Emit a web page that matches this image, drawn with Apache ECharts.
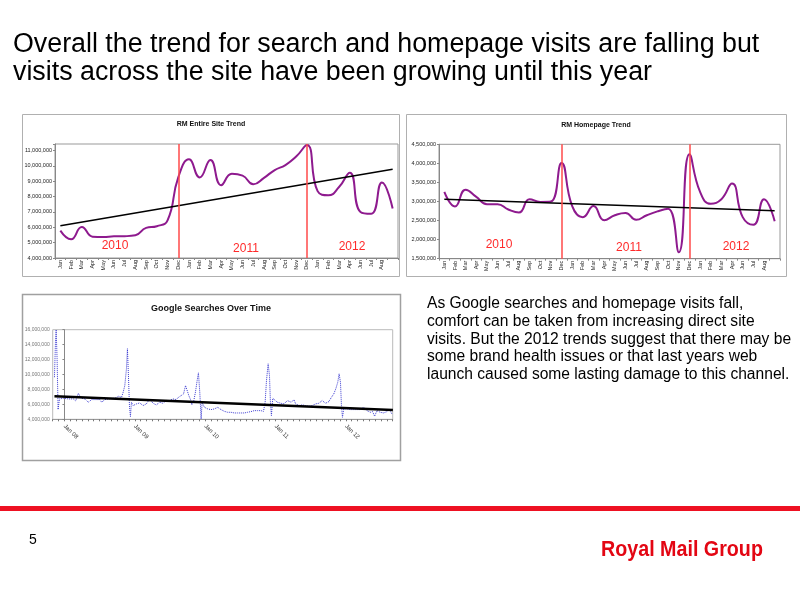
<!DOCTYPE html>
<html><head><meta charset="utf-8">
<script src="https://cdn.jsdelivr.net/npm/echarts@6/dist/echarts.min.js"></script>
<style>html,body{margin:0;padding:0;background:#fff}#c{width:800px;height:600px}</style>
</head><body><div id="c"></div>
<script>
// ---- data ----
const monthLabels = ['Jan','Feb','Mar','Apr','May','Jun','Jul','Aug','Sep','Oct','Nov','Dec',
  'Jan','Feb','Mar','Apr','May','Jun','Jul','Aug','Sep','Oct','Nov','Dec',
  'Jan','Feb','Mar','Apr','Jun','Jul','Aug',''];
const siteVisits = [5780000,5220000,6020000,5390000,5360000,5410000,5420000,5480000,5960000,6070000,6450000,9250000,
  10420000,9240000,10380000,8740000,9480000,9360000,8800000,9220000,9720000,10050000,10600000,11350000,
  8350000,8080000,8620000,9550000,7000000,6880000,8920000,7220000];
const siteTrend = [6100000, 9780000];
const homeVisits = [3250000,2870000,3310000,3120000,2930000,2930000,2790000,2710000,3060000,2990000,3000000,4010000,
  2880000,2590000,2880000,2510000,2640000,2700000,2520000,2640000,2740000,2810000,1670000,4240000,
  3250000,2940000,3060000,3470000,2590000,2390000,3060000,2480000];
const homeTrend = [3060000, 2760000];
const yearLabels = ['2010','2011','2012'];
const yearDividers = [11, 23]; // category index of the red lines (Dec 2010, Dec 2011)
// Google searches: x = months since Jan 2008, y = searches
const googleMonth = [-1.70,-1.53,-1.41,-1.25,-1.08,-0.85,-0.17,0.68,1.53,1.92,2.38,2.83,3.51,4.07,4.64,5.32,6.06,6.34,6.90,7.47,
  8.60,9.28,9.73,10.02,10.30,10.58,10.75,10.92,11.09,11.26,11.43,11.71,12.28,12.85,13.41,13.98,14.54,15.11,15.68,16.24,
  16.81,17.37,17.94,18.51,19.07,19.47,19.92,20.32,20.66,20.88,21.22,21.51,21.73,22.07,22.35,22.64,22.86,23.09,23.32,23.49,
  23.88,24.45,25.01,25.58,26.15,26.71,27.28,27.84,28.41,28.98,29.54,30.11,30.67,31.24,31.81,32.37,32.94,33.50,33.96,34.24,
  34.47,34.75,34.98,35.14,35.31,35.54,35.88,36.33,36.90,37.46,38.03,38.37,38.71,39.16,39.44,40.01,40.58,41.14,41.71,42.28,
  42.84,43.41,43.97,44.54,45.11,45.56,45.95,46.29,46.63,46.86,47.09,47.26,47.43,47.65,48.22,48.78,49.35,49.92,50.48,51.05,
  51.61,52.18,52.58,52.91,53.31,53.88,54.44,55.01,55.46,55.86];
const googleSearches = [9640000,14300000,16000000,12100000,5300000,6730000,6820000,6730000,6730000,6460000,7490000,6820000,6730000,6280000,6640000,6640000,6640000,6280000,6640000,6730000,
  6820000,7090000,6910000,7630000,8520000,10760000,13450000,9870000,5840000,4360000,6280000,5840000,6060000,6190000,5840000,6060000,6730000,6150000,5930000,6280000,
  6150000,6510000,6510000,6730000,6640000,6960000,7180000,7400000,8520000,8610000,7180000,6640000,5930000,6510000,7630000,9190000,10220000,7630000,4040000,6280000,
  5610000,5390000,5300000,5390000,5610000,5300000,5070000,4940000,4940000,4850000,4850000,4850000,4850000,4940000,5030000,5160000,5160000,5160000,5070000,6280000,
  9190000,11430000,9870000,6280000,4490000,6820000,6820000,6280000,6150000,6060000,6510000,6640000,6280000,6640000,6060000,5840000,5930000,5840000,5750000,5840000,
  6060000,6150000,6510000,6150000,6370000,6960000,7400000,8080000,8970000,10090000,8970000,5840000,4270000,5390000,5390000,5300000,5300000,5300000,5300000,5610000,
  5160000,4940000,5030000,4400000,5160000,4940000,4850000,5030000,5300000,4720000,5300000];
const googleTrendX = [-1.70, 56.03];
const googleTrendY = [7090000, 5250000];
const googleYearLabels = ['Jan 08','Jan 09','Jan 10','Jan 11','Jan 12'];

// ---- layout / style ----
const FONT = '"Liberation Sans", Arial, sans-serif';
const purple = '#8e1a8e';
const redLine = '#ff4a4a';
const yearRed = '#ff2a2a';
const fmt = v => Math.round(v).toLocaleString('en-US');

function monthAxis(gi){
  return {gridIndex: gi, type:'category', data: monthLabels, boundaryGap:true,
    axisLine:{lineStyle:{color:'#888',width:1}},
    axisTick:{show:true,length:2,lineStyle:{color:'#888'}},
    axisLabel:{interval:0, rotate:90, fontSize:5.5, color:'#222', margin:2, fontFamily:FONT}};
}
function valAxis(gi, min, max, step){
  return {gridIndex: gi, type:'value', min:min, max:max, interval:step,
    splitLine:{show:false},
    axisLine:{show:true,lineStyle:{color:'#888',width:1}},
    axisTick:{show:true,length:2,lineStyle:{color:'#888'}},
    axisLabel:{fontSize:5.5, color:'#222', margin:3, fontFamily:FONT,
      formatter: v => (Math.abs((v - min) / step - Math.round((v - min) / step)) < 1e-6) ? fmt(v) : ''}};
}
function dividers(){
  return {silent:true, symbol:['none','none'], label:{show:false},
    lineStyle:{color:redLine, width:1.5, type:'solid'},
    data: yearDividers.map(i => ({xAxis:i}))};
}

const chart = echarts.init(document.getElementById('c'), null, {renderer:'canvas'});

const graphics = [
  {type:'text', x:13, y:45, style:{text:'Overall the trend for search and homepage visits are falling but', font:'26.8px '+FONT, fill:'#000', verticalAlign:'middle'}},
  {type:'text', x:13, y:73, style:{text:'visits across the site have been growing until this year', font:'26.8px '+FONT, fill:'#000', verticalAlign:'middle'}},
  // chart frames
  {type:'rect', shape:{x:22.5,y:114.5,width:377,height:162}, style:{fill:'none', stroke:'#b0b0b0', lineWidth:1}},
  {type:'rect', shape:{x:406.5,y:114.5,width:380,height:162}, style:{fill:'none', stroke:'#b0b0b0', lineWidth:1}},
  {type:'rect', shape:{x:22.5,y:294.5,width:378,height:166}, style:{fill:'none', stroke:'#a0a0a0', lineWidth:1.5}},
  // chart titles
  {type:'text', x:211, y:124, style:{text:'RM Entire Site Trend', font:'bold 7px '+FONT, fill:'#111', align:'center', verticalAlign:'middle'}},
  {type:'text', x:596, y:125, style:{text:'RM Homepage Trend', font:'bold 7px '+FONT, fill:'#111', align:'center', verticalAlign:'middle'}},
  {type:'text', x:211, y:309, style:{text:'Google Searches Over Time', font:'bold 9px '+FONT, fill:'#111', align:'center', verticalAlign:'middle'}},
  // paragraph
  {type:'text', x:427, y:304, style:{text:'As Google searches and homepage visits fall,', font:'15.6px '+FONT, fill:'#000', verticalAlign:'middle'}},
  {type:'text', x:427, y:322, style:{text:'comfort can be taken from increasing direct site', font:'15.6px '+FONT, fill:'#000', verticalAlign:'middle'}},
  {type:'text', x:427, y:340, style:{text:'visits. But the 2012 trends suggest that there may be', font:'15.6px '+FONT, fill:'#000', verticalAlign:'middle'}},
  {type:'text', x:427, y:357, style:{text:'some brand health issues or that last years web', font:'15.6px '+FONT, fill:'#000', verticalAlign:'middle'}},
  {type:'text', x:427, y:375, style:{text:'launch caused some lasting damage to this channel.', font:'15.6px '+FONT, fill:'#000', verticalAlign:'middle'}},
  // footer
  {type:'rect', shape:{x:0,y:506,width:800,height:5}, style:{fill:'#ee1122'}},
  {type:'text', x:29, y:540, style:{text:'5', font:'14px '+FONT, fill:'#000', verticalAlign:'middle'}},
  {type:'text', x:601, y:550, scaleX:0.895, style:{text:'Royal Mail Group', font:'bold 22px '+FONT, fill:'#e30613', align:'left', verticalAlign:'middle'}}
];
// year labels
const yearPos1 = [[115,246],[246,249],[352,247]];
const yearPos2 = [[499,245],[629,248],[736,247]];
yearLabels.forEach((t,i) => {
  graphics.push({type:'text', x:yearPos1[i][0], y:yearPos1[i][1], style:{text:t, font:'12px '+FONT, fill:yearRed, align:'center', verticalAlign:'middle'}});
  graphics.push({type:'text', x:yearPos2[i][0], y:yearPos2[i][1], style:{text:t, font:'12px '+FONT, fill:yearRed, align:'center', verticalAlign:'middle'}});
});

const option = {
  animation:false,
  backgroundColor:'#fff',
  textStyle:{fontFamily:FONT},
  graphic: graphics,
  grid:[
    {left:55, top:144, width:343, height:114, show:true, borderColor:'#999', borderWidth:1, backgroundColor:'#fff'},
    {left:439, top:144.3, width:341, height:114.4, show:true, borderColor:'#999', borderWidth:1, backgroundColor:'#fff'},
    {left:52.7, top:329.7, width:340, height:89.6, show:true, borderColor:'#bbb', borderWidth:1, backgroundColor:'#fff'}
  ],
  xAxis:[
    monthAxis(0),
    monthAxis(1),
    {gridIndex:2, type:'value', min:-2, max:56, interval:1, splitLine:{show:false},
      axisLine:{lineStyle:{color:'#999'}},
      axisTick:{show:true,length:2,lineStyle:{color:'#777'}},
      axisLabel:{rotate:-45, fontSize:6, color:'#333', margin:6, fontFamily:FONT,
        formatter: v => (v >= 0 && Math.round(v) % 12 === 0) ? googleYearLabels[Math.round(v)/12] : ''}}
  ],
  yAxis:[
    valAxis(0, 4000000, 11420000, 1000000),
    valAxis(1, 1500000, 4500000, 500000),
    valAxis(2, 4000000, 16000000, 2000000)
  ],
  series:[
    {type:'line', xAxisIndex:0, yAxisIndex:0, data:siteVisits, smooth:0.5, symbol:'none',
      lineStyle:{color:purple,width:2}, markLine:dividers(), z:3},
    {type:'line', xAxisIndex:0, yAxisIndex:0, data:[[0,siteTrend[0]],[siteVisits.length-1,siteTrend[1]]], symbol:'none',
      lineStyle:{color:'#000',width:1.5}, z:4},
    {type:'line', xAxisIndex:1, yAxisIndex:1, data:homeVisits, smooth:0.5, symbol:'none',
      lineStyle:{color:purple,width:2}, markLine:dividers(), z:3},
    {type:'line', xAxisIndex:1, yAxisIndex:1, data:[[0,homeTrend[0]],[homeVisits.length-1,homeTrend[1]]], symbol:'none',
      lineStyle:{color:'#000',width:1.5}, z:4},
    {type:'line', xAxisIndex:2, yAxisIndex:2, data:googleMonth.map((m,i)=>[m,googleSearches[i]]), symbol:'none',
      lineStyle:{color:'#3b3bd0',width:1,type:'dotted'}, clip:true, z:3},
    {type:'line', xAxisIndex:2, yAxisIndex:2, data:googleTrendX.map((m,i)=>[m,googleTrendY[i]]), symbol:'none',
      lineStyle:{color:'#000',width:2.5}, z:4}
  ]
};
option.yAxis[2].axisLabel.fontSize = 5;
option.yAxis[2].axisLabel.color = '#777';
chart.setOption(option);
</script></body></html>
